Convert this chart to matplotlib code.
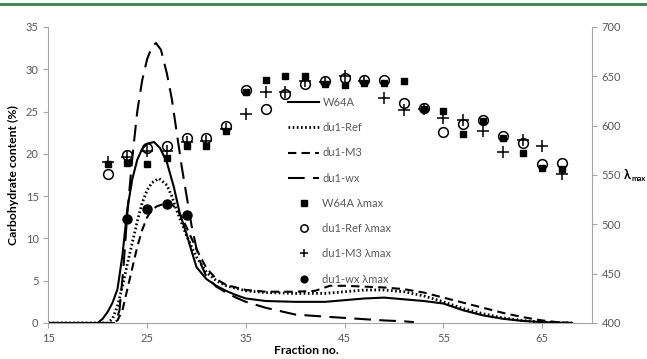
import matplotlib
matplotlib.use('Agg')
import matplotlib.pyplot as plt
from matplotlib.lines import Line2D

plt.rcParams['font.family'] = ['Lato', 'DejaVu Sans']

# carbohydrate profiles (left axis, %)
frac_w64a = [15, 20, 20.5, 21, 21.5, 22, 22.5, 23, 23.5, 24, 24.5, 25, 25.7, 26.3, 27, 27.7, 28.3,
             29, 29.5, 30, 31, 32, 33, 34, 35, 37, 40, 43, 45, 47, 49, 51, 53, 55, 57, 59, 61,
             63, 65, 68]
w64a = [0, 0, 0.5, 1.3, 2.4, 4.0, 8.0, 13.5, 17.0, 19.3, 20.6, 21.2, 21.4, 20.7, 19.0, 16.1, 13.0,
        10.5, 8.5, 6.6, 5.2, 4.4, 3.8, 3.3, 2.9, 2.6, 2.5, 2.5, 2.7, 2.9, 3.0, 2.8, 2.6, 2.3, 1.5,
        0.9, 0.5, 0.25, 0.1, 0]

frac_ref = [15, 21, 21.5, 22, 22.5, 23, 23.5, 24, 24.5, 25, 25.5, 26.2, 27, 27.5, 28, 28.5, 29,
            29.5, 30, 31, 32, 33, 35, 37, 40, 43, 45, 47, 49, 51, 53, 55, 57, 59, 61, 63, 65, 68]
du1_ref = [0, 0, 0.5, 2.0, 4.3, 7.0, 9.5, 12.0, 14.2, 15.7, 16.6, 17.1, 16.3, 15.0, 13.3, 11.8,
           10.3, 9.0, 7.8, 6.0, 5.0, 4.4, 3.8, 3.6, 3.5, 3.5, 3.7, 3.9, 3.9, 3.7, 3.2, 2.5, 1.7,
           1.1, 0.6, 0.3, 0.1, 0]

frac_m3 = [15, 21.5, 22, 22.5, 23, 23.5, 24, 24.5, 25, 25.5, 26, 26.5, 27, 27.5, 28, 28.5, 29,
           29.5, 30, 31, 32, 33, 35, 37, 40, 42, 43.5, 45, 47, 49, 51, 53, 55, 57, 59, 61, 63,
           65, 66.5, 68]
du1_m3 = [0, 0, 0.3, 1.5, 4.0, 6.5, 9.0, 11.0, 12.5, 13.4, 13.8, 14.0, 14.1, 14.0, 13.5, 12.5,
          11.3, 10.0, 8.7, 6.5, 5.2, 4.5, 3.9, 3.7, 3.7, 3.8, 4.4, 4.4, 4.3, 4.2, 4.0, 3.6, 3.0,
          2.4, 1.8, 1.2, 0.7, 0.3, 0.1, 0]

frac_wx = [15, 21.8, 22.2, 22.6, 23, 23.5, 24, 24.5, 25, 25.5, 25.9, 26.4, 27, 27.5, 28, 28.5,
           29, 29.5, 30, 30.5, 31, 32, 33, 34, 35, 37, 40, 43, 45, 47, 49, 51, 52]
du1_wx = [0, 0, 1.5, 6.5, 13.0, 19.5, 25.0, 28.7, 31.2, 32.7, 33.1, 32.3, 29.5, 26.5, 22.5, 18.5,
          15.0, 11.5, 8.8, 6.8, 5.5, 4.3, 3.6, 3.0, 2.5, 1.8, 1.0, 0.75, 0.6, 0.45, 0.3, 0.2, 0.1]

# lambda max (right axis, nm)
frac_lam = [21, 23, 25, 27, 29, 31, 33, 35, 37, 39, 41, 43, 45, 47, 49, 51, 53, 55, 57, 59, 61,
            63, 65, 67]
lam_w64a = [561, 562, 561, 567, 579, 579, 595, 634, 646, 650, 650, 642, 641, 643, 643, 645, 617,
            615, 592, 605, 588, 572, 557, 556]
lam_ref = [551, 570, 577, 579, 587, 587, 600, 636, 617, 632, 642, 645, 648, 646, 646, 623, 618,
           594, 602, 606, 590, 582, 561, 562]
lam_m3 = [563, 568, 574, 574, 583, 584, 597, 612, 634, 634, 645, 644, 650, 645, 628, 616, 617,
          608, 606, 595, 573, 585, 579, 551]
frac_lam_wx = [23, 25, 27, 29]
lam_wx = [505, 516, 521, 509]

axis_grey = '#a6a6a6'
text_grey = '#595959'

fig = plt.figure(figsize=(6.47, 3.59), dpi=100)
ax = fig.add_axes([0.0747, 0.1003, 0.8398, 0.8245])
ax2 = ax.twinx()

ax.plot(frac_w64a, w64a, color='black', lw=1.5, label='W64A')
ax.plot(frac_ref, du1_ref, color='black', lw=2, linestyle=(0, (0.6, 0.9)), label='du1-Ref')
ax.plot(frac_m3, du1_m3, color='black', lw=1.5, linestyle=(0, (4, 2.5)), label='du1-M3')
ax.plot(frac_wx, du1_wx, color='black', lw=1.5, linestyle=(0, (8, 4)), label='du1-wx')

ax2.plot(frac_lam, lam_w64a, linestyle='none', marker='s', ms=5, color='black', label='W64A λmax')
ax2.plot(frac_lam, lam_ref, linestyle='none', marker='o', ms=7, mfc='none', mec='black', mew=1.1,
         label='du1-Ref λmax')
ax2.plot(frac_lam, lam_m3, linestyle='none', marker='+', ms=8, mew=1.1, color='black',
         label='du1-M3 λmax')
ax2.plot(frac_lam_wx, lam_wx, linestyle='none', marker='o', ms=6.5, color='black',
         label='du1-wx λmax')

ax.set_xlim(15, 70)
ax.set_ylim(0, 35)
ax2.set_ylim(400, 700)
ax.set_xticks([15, 25, 35, 45, 55, 65])
ax.set_yticks(range(0, 36, 5))
ax2.set_yticks(range(400, 701, 50))

for a in (ax, ax2):
    a.spines['top'].set_visible(False)
    for s in ('left', 'right', 'bottom'):
        a.spines[s].set_color(axis_grey)
    a.tick_params(colors=axis_grey, labelcolor=text_grey, labelsize=8, length=3.5, width=0.8)
ax.spines['right'].set_visible(False)
ax2.spines['left'].set_visible(False)
ax2.spines['bottom'].set_visible(False)

ax.set_ylabel('Carbohydrate content (%)', fontsize=8.8, fontweight='bold', labelpad=5)
fig.text(306 / 647, 1 - 351 / 359, 'Fraction no.', fontsize=8.8, fontweight='bold',
         ha='center', va='center')
fig.text(624 / 647, 1 - 175 / 359, 'λ', fontsize=9, fontweight='bold', ha='left', va='center')
fig.text(631 / 647, 1 - 178 / 359, 'max', fontsize=5.5, fontweight='bold', ha='left', va='center')

h1, l1 = ax.get_legend_handles_labels()
h2, l2 = ax2.get_legend_handles_labels()
ax2.legend(h1 + h2, l1 + l2, loc='upper left', bbox_to_anchor=(288 / 647, 1 - 97 / 359),
           bbox_transform=fig.transFigure, frameon=False, fontsize=8, labelspacing=1.28,
           handlelength=2.8, handletextpad=0.3, borderpad=0, borderaxespad=0, numpoints=1,
           markerscale=0.75, labelcolor=text_grey)

fig.add_artist(Line2D([0, 1], [1 - 4 / 359, 1 - 4 / 359], transform=fig.transFigure,
                      color='#3f7f4f', lw=2))

fig.savefig('out.png', dpi=100)
